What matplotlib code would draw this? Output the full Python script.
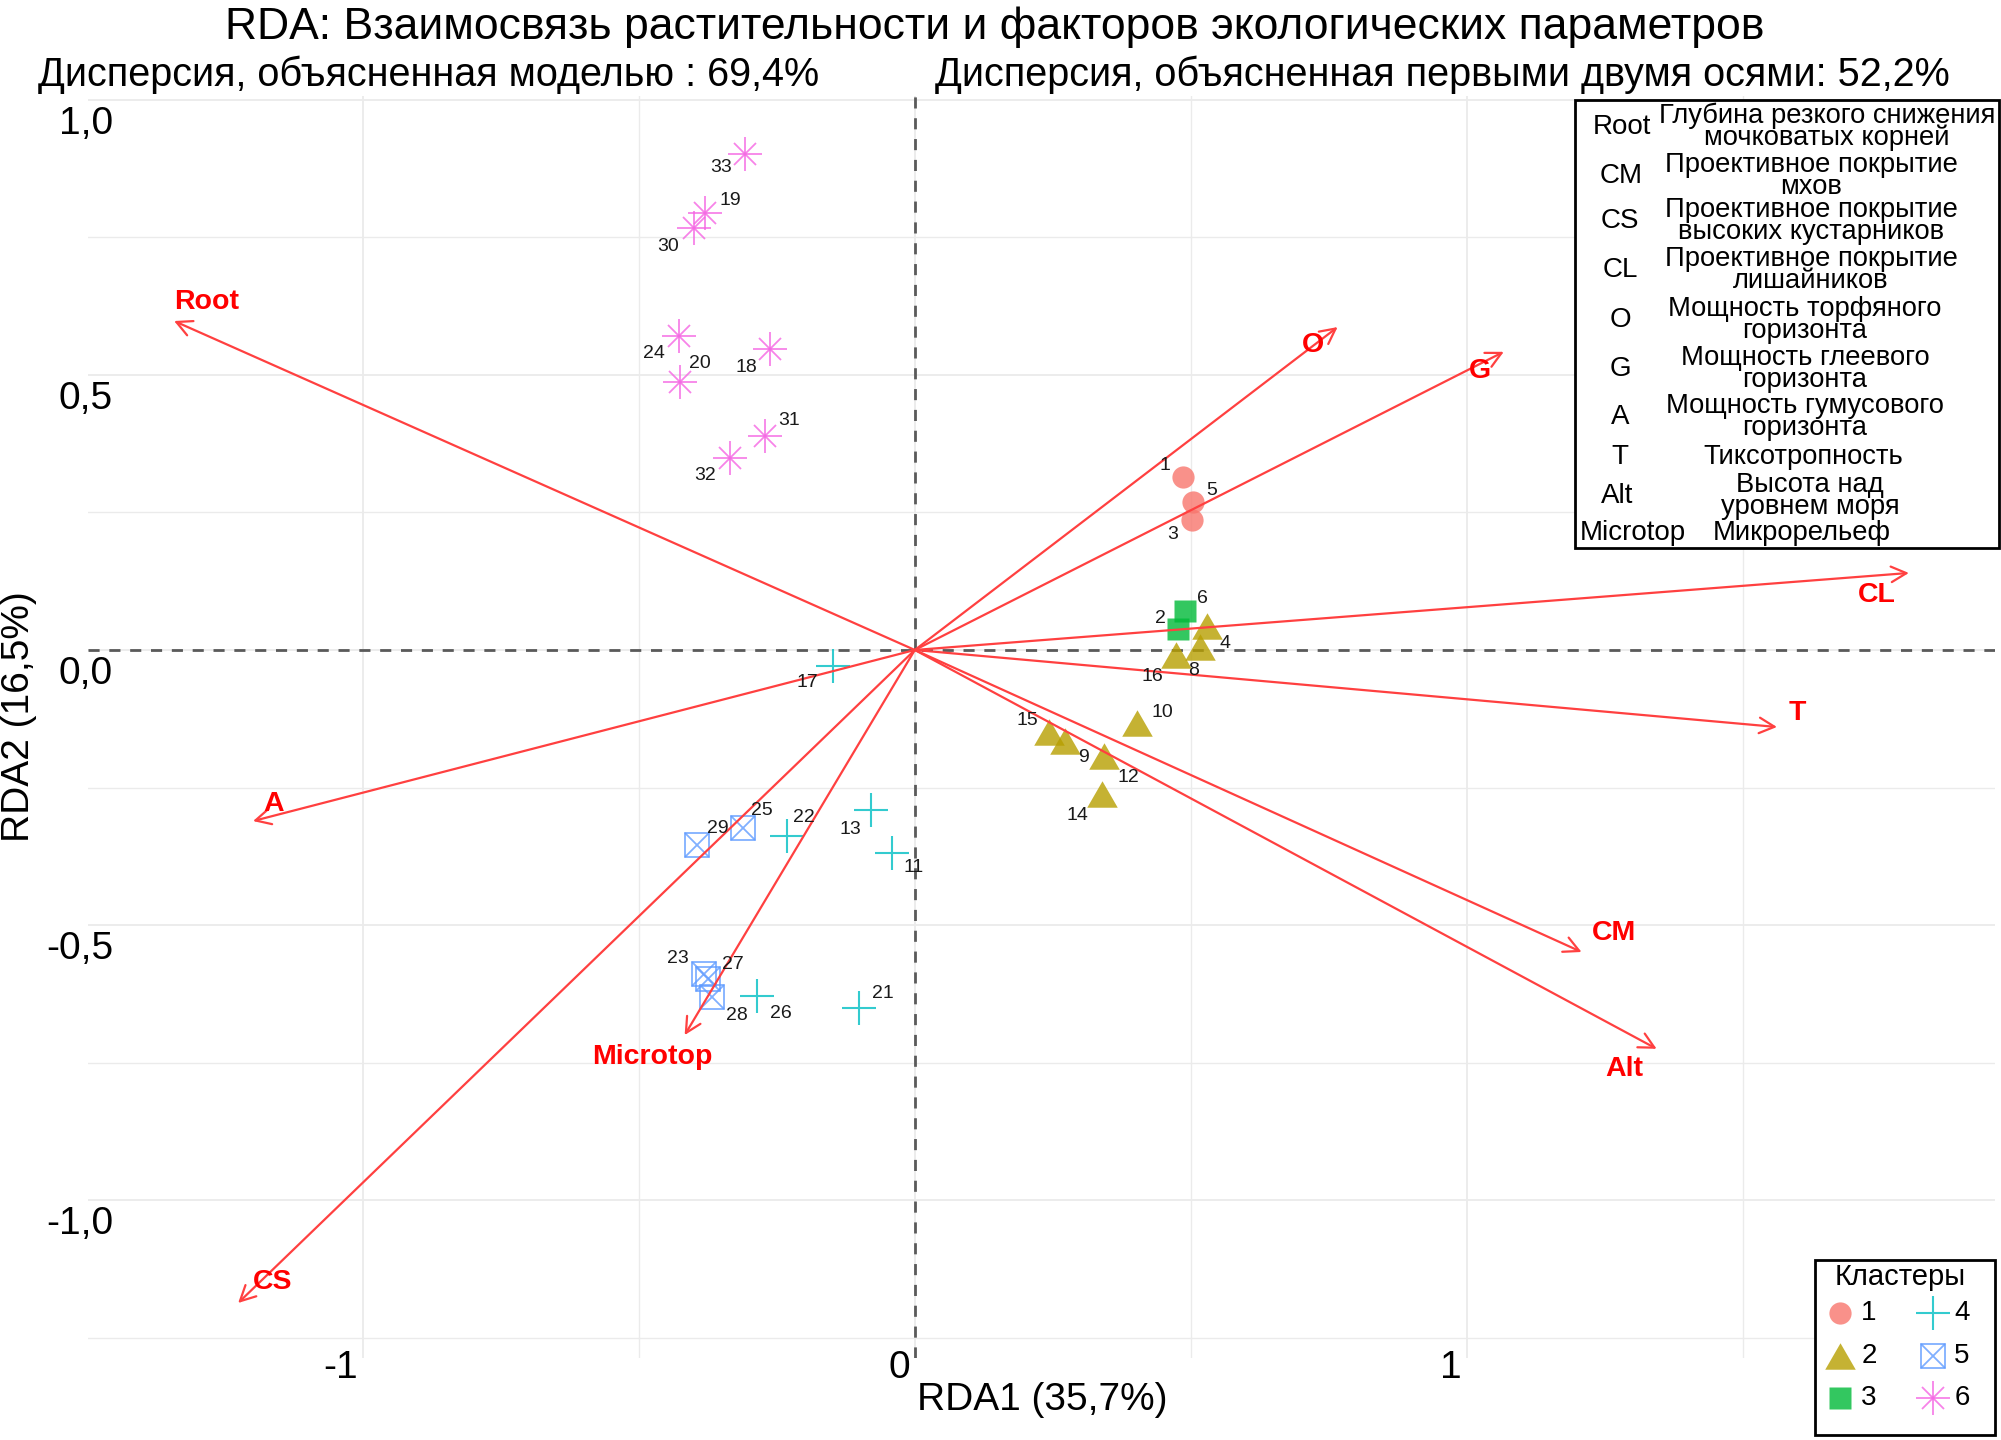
import matplotlib
matplotlib.use('Agg')
import matplotlib.pyplot as plt
from matplotlib.patches import FancyArrowPatch, Rectangle
from matplotlib.path import Path
from matplotlib.ticker import MultipleLocator

plt.rcParams['font.family'] = ['Liberation Sans', 'DejaVu Sans']
plt.rcParams['lines.scale_dashes'] = False

# --- site scores (RDA1, RDA2) ---
site_id = [1, 3, 5,
           4, 8, 9, 10, 12, 14, 15, 16,
           2, 6,
           11, 13, 17, 21, 22, 26,
           23, 25, 27, 28, 29,
           18, 19, 20, 24, 30, 31, 32, 33]
site_cluster = [1, 1, 1,
                2, 2, 2, 2, 2, 2, 2, 2,
                3, 3,
                4, 4, 4, 4, 4, 4,
                5, 5, 5, 5, 5,
                6, 6, 6, 6, 6, 6, 6, 6]
site_x = [0.485, 0.502, 0.504,
          0.530, 0.516, 0.272, 0.402, 0.342, 0.339, 0.243, 0.473,
          0.477, 0.489,
          -0.042, -0.080, -0.149, -0.101, -0.232, -0.286,
          -0.382, -0.312, -0.375, -0.368, -0.395,
          -0.263, -0.380, -0.426, -0.428, -0.400, -0.272, -0.335, -0.308]
site_y = [0.315, 0.236, 0.269,
          0.044, 0.005, -0.165, -0.133, -0.193, -0.262, -0.149, -0.009,
          0.038, 0.071,
          -0.369, -0.291, -0.029, -0.651, -0.338, -0.629,
          -0.589, -0.324, -0.598, -0.631, -0.355,
          0.547, 0.795, 0.487, 0.571, 0.767, 0.389, 0.349, 0.902]
# label offsets in pixels (layout only)
lab_dx = [-18, -19, 19,
          18, -6, 19, 26, 25, -25, -22, -24,
          -18, 18,
          22, -20, -25, 24, 17, 24,
          -26, 19, 25, 25, 21,
          -23, 25, 20, -25, -26, 24, -25, -24]
lab_dy = [11, -14, 11,
          -18, -23, -17, 11, -21, -21, 11, -22,
          11, 12,
          -15, -19, -17, 15, 18, -17,
          16, 18, 14, -18, 17,
          -18, 12, 19, -18, -18, 15, -18, -14]

# --- environmental vectors ---
env_names = ['Root', 'O', 'G', 'CL', 'T', 'CM', 'Alt', 'A', 'Microtop', 'CS']
env_x = [-1.342, 0.766, 1.067, 1.801, 1.562, 1.208, 1.344, -1.199, -0.417, -1.226]
env_y = [0.598, 0.587, 0.542, 0.140, -0.140, -0.549, -0.725, -0.311, -0.700, -1.187]
env_dx = [33, -25, -24, -32, 20, 32, -32, 21, -32, 34]
env_dy = [19, -18, -19, -22, 14, 19, -20, 17, -22, 21]

# --- variable table ---
codes = ['Root', 'CM', 'CS', 'CL', 'O', 'G', 'A', 'T', 'Alt', 'Microtop']
descr = ['Глубина резкого снижения\nмочковатых корней',
         'Проективное покрытие\nмхов',
         'Проективное покрытие\nвысоких кустарников',
         'Проективное покрытие\nлишайников',
         'Мощность торфяного\nгоризонта',
         'Мощность глеевого\nгоризонта',
         'Мощность гумусового\nгоризонта',
         'Тиксотропность',
         'Высота над\nуровнем моря',
         'Микрорельеф']

clusters = [1, 2, 3, 4, 5, 6]
cl_colors = ['#F8766D', '#B79F00', '#00BA38', '#00BFC4', '#619CFF', '#F564E3']

tri = Path([(-1, -0.866), (1, -0.866), (0, 0.866), (-1, -0.866)],
           [Path.MOVETO, Path.LINETO, Path.LINETO, Path.CLOSEPOLY])


def draw_marker(a, x, y, cl, color):
    kw = dict(linestyle='none', alpha=0.8, zorder=3)
    if cl == 1:
        a.plot(x, y, marker='o', ms=16, mec='none', color=color, **kw)
    elif cl == 2:
        a.plot(x, y, marker=tri, ms=22, mec='none', color=color, **kw)
    elif cl == 3:
        a.plot(x, y, marker='s', ms=16.5, mec='none', color=color, **kw)
    elif cl == 4:
        a.plot(x, y, marker='+', ms=24, mew=1.5, color=color, **kw)
    elif cl == 5:
        a.plot(x, y, marker='s', ms=17, mew=1.3, fillstyle='none', color=color, **kw)
        a.plot(x, y, marker='x', ms=17, mew=1.3, color=color, **kw)
    else:
        a.plot(x, y, marker='+', ms=24, mew=1.3, color=color, **kw)
        a.plot(x, y, marker='x', ms=16.5, mew=1.3, color=color, **kw)


W, H = 2001, 1440
fig = plt.figure(figsize=(W / 100, H / 100), dpi=100)
L, R, T, B = 88, 1995, 96, 1358
ax = fig.add_axes([L / W, 1 - B / H, (R - L) / W, (B - T) / H])
ax.set_xlim(-1.498, 1.957)
ax.set_ylim(-1.287, 1.007)
ax.xaxis.set_major_locator(MultipleLocator(1))
ax.xaxis.set_minor_locator(MultipleLocator(0.5))
ax.yaxis.set_major_locator(MultipleLocator(0.5))
ax.yaxis.set_minor_locator(MultipleLocator(0.25))
ax.grid(which='major', color='#EBEBEB', lw=1.3)
ax.grid(which='minor', color='#EBEBEB', lw=1.0)
ax.set_axisbelow(True)
ax.tick_params(which='both', length=0, labelbottom=False, labelleft=False)
for s in ax.spines.values():
    s.set_visible(False)

ax.axhline(0, color='#5a5a5a', lw=2, linestyle=(0, (8, 7)), zorder=1)
ax.axvline(0, color='#5a5a5a', lw=2, linestyle=(0, (8, 7)), zorder=1)

# tick labels (shifted as in the original)
for v, t in zip([-1, 0, 1], ['-1', '0', '1']):
    ax.annotate(t, xy=(v, 0), xycoords=('data', 'axes fraction'), xytext=(-5, 8),
                textcoords='offset pixels', ha='right', va='top', fontsize=28,
                annotation_clip=False)
for v, t in zip([1.0, 0.5, 0.0, -0.5, -1.0], ['1,0', '0,5', '0,0', '-0,5', '-1,0']):
    ax.annotate(t, xy=(0, v), xycoords=('axes fraction', 'data'), xytext=(25, -6),
                textcoords='offset pixels', ha='right', va='top', fontsize=28,
                annotation_clip=False)

# sites
for i in range(len(site_id)):
    cl = site_cluster[i]
    draw_marker(ax, site_x[i], site_y[i], cl, cl_colors[cl - 1])
    ax.annotate(str(site_id[i]), xy=(site_x[i], site_y[i]), xytext=(lab_dx[i], lab_dy[i]),
                textcoords='offset pixels', ha='center', va='center', fontsize=14,
                color='#1a1a1a', zorder=5)

# env arrows
for i in range(len(env_names)):
    arr = FancyArrowPatch((0, 0), (env_x[i], env_y[i]),
                          arrowstyle='->,head_length=0.55,head_width=0.28',
                          mutation_scale=20, color='#FF4040', lw=1.6,
                          shrinkA=0, shrinkB=0, zorder=4)
    ax.add_patch(arr)
    ax.annotate(env_names[i], xy=(env_x[i], env_y[i]), xytext=(env_dx[i], env_dy[i]),
                textcoords='offset pixels', ha='center', va='center', fontsize=20.5,
                fontweight='bold', color='#FF0000', zorder=6)

# titles
fig.text(0.497, 1 - 27 / H, 'RDA: Взаимосвязь растительности и факторов экологических параметров',
         ha='center', va='center', fontsize=32)
fig.text(38 / W, 1 - 75 / H, 'Дисперсия, объясненная моделью : 69,4%',
         ha='left', va='center', fontsize=28.5)
fig.text(1950 / W, 1 - 75 / H, 'Дисперсия, объясненная первыми двумя осями: 52,2%',
         ha='right', va='center', fontsize=28.5)
fig.text(1042 / W, 1 - 1400 / H, 'RDA1 (35,7%)', ha='center', va='center', fontsize=28)
fig.text(19 / W, 1 - 717 / H, 'RDA2 (16,5%)', ha='center', va='center', fontsize=28,
         rotation=90)

# overlay for the two legend boxes (pixel coordinates)
lax = fig.add_axes([0, 0, 1, 1])
lax.set_xlim(0, W)
lax.set_ylim(H, 0)
lax.axis('off')
lax.patch.set_alpha(0)

lax.add_patch(Rectangle((1575, 100), 424, 448, facecolor='white', edgecolor='black', lw=2))
row_y = [127, 176, 221, 270, 320, 369, 417, 457, 496, 533]
desc_x = [1827, 1811, 1811, 1811, 1805, 1805, 1805, 1803, 1810, 1802]
code_x = [1622, 1621, 1620, 1620, 1620, 1620, 1620, 1620, 1617, 1633]
for c, d, y, dx, cx in zip(codes, descr, row_y, desc_x, code_x):
    lax.text(cx, y, c, ha='center', va='center', fontsize=20)
    lax.text(dx, y, d, ha='center', va='center', fontsize=19.7, linespacing=0.78)

lax.add_patch(Rectangle((1815, 1260), 180, 175, facecolor='white', edgecolor='black', lw=2))
lax.text(1900, 1277, 'Кластеры', ha='center', va='center', fontsize=21)
leg_x = [1840, 1840, 1840, 1933, 1933, 1933]
leg_y = [1313, 1356, 1398, 1313, 1356, 1398]
for cl, x, y in zip(clusters, leg_x, leg_y):
    draw_marker(lax, x, y, cl, cl_colors[cl - 1])
    lax.text(x + 29, y, str(cl), ha='center', va='center', fontsize=20)

fig.savefig('out.png', dpi=100, facecolor='white')
